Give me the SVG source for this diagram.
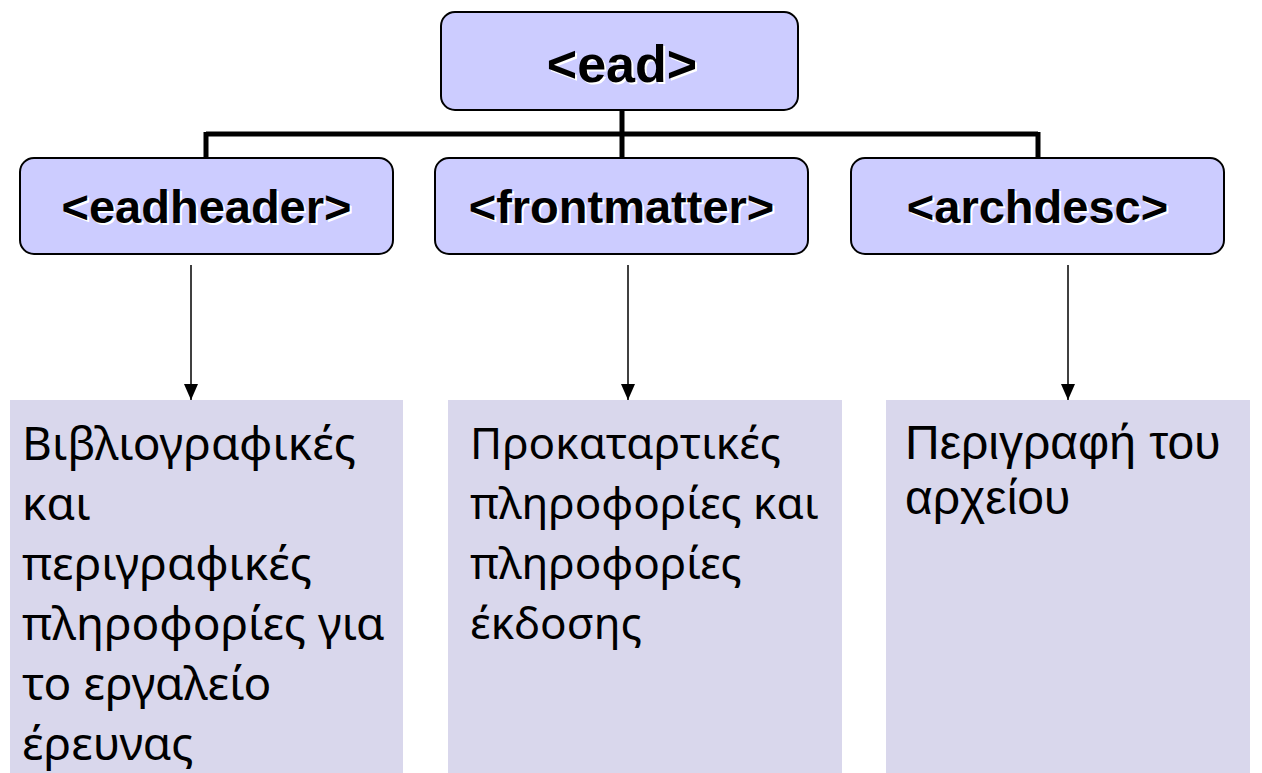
<svg xmlns="http://www.w3.org/2000/svg" width="1262" height="773" viewBox="0 0 1262 773">
<defs>
<style>
.hdr{fill:#CCCCFF;stroke:#000;stroke-width:2}
.hl{font-family:"Liberation Sans",Arial,sans-serif;font-weight:bold;text-anchor:middle}
.sh{fill:#fff}
.tx{fill:#000}
.desc{fill:#D9D7EC}
.dt{font-family:"Noto Sans","Open Sans",sans-serif;fill:#000}
.dt3{font-family:"Liberation Sans",Arial,sans-serif;font-size:48px;fill:#000}
.tree{stroke:#000;stroke-width:5;fill:none}
.arr{stroke:#000;stroke-width:1.5;fill:none;marker-end:url(#ah)}
</style>
<marker id="ah" markerWidth="16" markerHeight="14" refX="16" refY="7" orient="auto" markerUnits="userSpaceOnUse" viewBox="0 0 16 14">
<path d="M0,0 L16,7 L0,14 Z" fill="#000"/>
</marker>
</defs>
<rect width="1262" height="773" fill="#fff"/>
<g id="connectors">
<path class="tree" d="M622,110 V136 M206,134 H1038 M206,132 V158 M622,132 V158 M1038,132 V158"/>
<line class="arr" x1="191" y1="265" x2="191" y2="400"/>
<line class="arr" x1="628" y1="265" x2="628" y2="400"/>
<line class="arr" x1="1068" y1="265" x2="1068" y2="400"/>
</g>
<g id="ead">
<rect class="hdr" x="441" y="12" width="357" height="98" rx="14"/>
<text class="hl sh" x="624" y="84" font-size="52">&lt;ead&gt;</text>
<text class="hl tx" x="622" y="82" font-size="52">&lt;ead&gt;</text>
</g>
<g id="eadheader">
<rect class="hdr" x="20" y="158" width="373" height="96" rx="14"/>
<text class="hl sh" x="208.5" y="225" font-size="47">&lt;eadheader&gt;</text>
<text class="hl tx" x="206.5" y="223" font-size="47">&lt;eadheader&gt;</text>
</g>
<g id="frontmatter">
<rect class="hdr" x="435" y="158" width="373" height="96" rx="14"/>
<text class="hl sh" x="623.5" y="225" font-size="47">&lt;frontmatter&gt;</text>
<text class="hl tx" x="621.5" y="223" font-size="47">&lt;frontmatter&gt;</text>
</g>
<g id="archdesc">
<rect class="hdr" x="851" y="158" width="373" height="96" rx="14"/>
<text class="hl sh" x="1039.5" y="225" font-size="47">&lt;archdesc&gt;</text>
<text class="hl tx" x="1037.5" y="223" font-size="47">&lt;archdesc&gt;</text>
</g>
<g id="desc-eadheader">
<rect class="desc" x="10" y="400" width="393" height="373"/>
<text class="dt" x="22" font-size="46">
<tspan x="22" y="460">Βιβλιογραφικές</tspan>
<tspan x="22" y="520">και</tspan>
<tspan x="22" y="580">περιγραφικές</tspan>
<tspan x="22" y="640">πληροφορίες για</tspan>
<tspan x="22" y="700">το εργαλείο</tspan>
<tspan x="22" y="760">έρευνας</tspan>
</text>
</g>
<g id="desc-frontmatter">
<rect class="desc" x="448" y="400" width="394" height="373"/>
<text class="dt" x="470" font-size="44">
<tspan x="470" y="459">Προκαταρτικές</tspan>
<tspan x="470" y="519">πληροφορίες και</tspan>
<tspan x="470" y="579">πληροφορίες</tspan>
<tspan x="470" y="639">έκδοσης</tspan>
</text>
</g>
<g id="desc-archdesc">
<rect class="desc" x="886" y="400" width="364" height="373"/>
<text class="dt3" x="905">
<tspan x="905" y="459">Περιγραφή του</tspan>
<tspan x="905" y="514">αρχείου</tspan>
</text>
</g>
</svg>
